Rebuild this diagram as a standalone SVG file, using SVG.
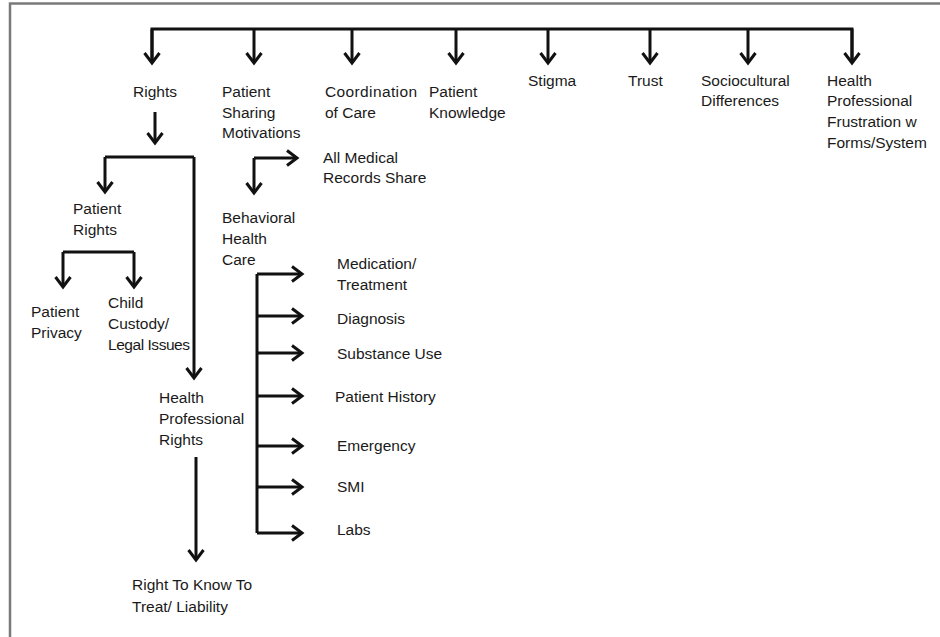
<svg xmlns="http://www.w3.org/2000/svg" width="940" height="637" viewBox="0 0 940 637">
<defs>
<marker id="arr" markerUnits="userSpaceOnUse" markerWidth="24" markerHeight="24" viewBox="-14 -12 18 24" refX="0" refY="0" orient="auto">
<path d="M-10,-7.5 L0,0 L-10,7.5" fill="none" stroke="#111" stroke-width="3" stroke-linejoin="miter"/>
</marker>
</defs>
<style>
text{font-family:"Liberation Sans",Arial,sans-serif;font-size:15.5px;fill:#1a1a1a}
.c{fill:none;stroke:#111;stroke-width:3}
.a{marker-end:url(#arr)}
</style>
<rect width="940" height="637" fill="#fff"/>
<path d="M10,637 V3.5 H940" fill="none" stroke="#7a7a7a" stroke-width="2.5"/>
<g id="connectors">
<path class="c" d="M152,63 V29 H852 V63"/>
<path class="c a" d="M152,29 V63"/>
<path class="c a" d="M254,29 V63"/>
<path class="c a" d="M352,29 V63"/>
<path class="c a" d="M456,29 V63"/>
<path class="c a" d="M548,29 V63"/>
<path class="c a" d="M650,29 V63"/>
<path class="c a" d="M748,29 V63"/>
<path class="c a" d="M852,29 V63"/>
<path class="c a" d="M155,112 V143"/>
<path class="c" d="M105,157 H194"/>
<path class="c a" d="M105,157 V192"/>
<path class="c a" d="M194,157 V378"/>
<path class="c" d="M63,252 H134"/>
<path class="c a" d="M63,252 V287"/>
<path class="c a" d="M134,252 V287"/>
<path class="c a" d="M196,457 V560"/>
<path class="c a" d="M254,158 H297"/>
<path class="c a" d="M254,158 V193"/>
<path class="c" d="M257,274 V533"/>
<path class="c a" d="M257,274 H302"/>
<path class="c a" d="M257,316 H302"/>
<path class="c a" d="M257,353 H302"/>
<path class="c a" d="M257,396 H302"/>
<path class="c a" d="M257,446 H302"/>
<path class="c a" d="M257,487 H302"/>
<path class="c a" d="M257,533 H302"/>
</g>
<g id="rights"><text x="133" y="97">Rights</text></g>
<g id="patient-sharing-motivations"><text x="222" y="97">Patient</text><text x="222" y="118">Sharing</text><text x="222" y="138">Motivations</text></g>
<g id="coordination-of-care"><text x="325" y="97" textLength="92">Coordination</text><text x="325" y="118">of Care</text></g>
<g id="patient-knowledge"><text x="429" y="97">Patient</text><text x="429" y="118">Knowledge</text></g>
<g id="stigma"><text x="528" y="86">Stigma</text></g>
<g id="trust"><text x="628" y="86">Trust</text></g>
<g id="sociocultural-differences"><text x="701" y="86">Sociocultural</text><text x="701" y="106">Differences</text></g>
<g id="hp-frustration"><text x="827" y="86">Health</text><text x="827" y="106">Professional</text><text x="827" y="127">Frustration w</text><text x="827" y="148">Forms/System</text></g>
<g id="patient-rights"><text x="73" y="214">Patient</text><text x="73" y="235">Rights</text></g>
<g id="patient-privacy"><text x="31" y="317">Patient</text><text x="31" y="338">Privacy</text></g>
<g id="child-custody"><text x="108" y="308">Child</text><text x="108" y="329">Custody/</text><text x="108" y="350" textLength="82">Legal Issues</text></g>
<g id="hp-rights"><text x="159" y="403">Health</text><text x="159" y="424">Professional</text><text x="159" y="445">Rights</text></g>
<g id="right-to-know"><text x="132" y="590">Right To Know To</text><text x="132" y="612">Treat/ Liability</text></g>
<g id="all-medical-records"><text x="323" y="163">All Medical</text><text x="323" y="183">Records Share</text></g>
<g id="behavioral-health-care"><text x="222" y="223">Behavioral</text><text x="222" y="244">Health</text><text x="222" y="265">Care</text></g>
<g id="medication"><text x="337" y="269">Medication/</text><text x="337" y="290">Treatment</text></g>
<g id="diagnosis"><text x="337" y="324">Diagnosis</text></g>
<g id="substance-use"><text x="337" y="359">Substance Use</text></g>
<g id="patient-history"><text x="335" y="402">Patient History</text></g>
<g id="emergency"><text x="337" y="451">Emergency</text></g>
<g id="smi"><text x="337" y="492">SMI</text></g>
<g id="labs"><text x="337" y="535">Labs</text></g>
</svg>
